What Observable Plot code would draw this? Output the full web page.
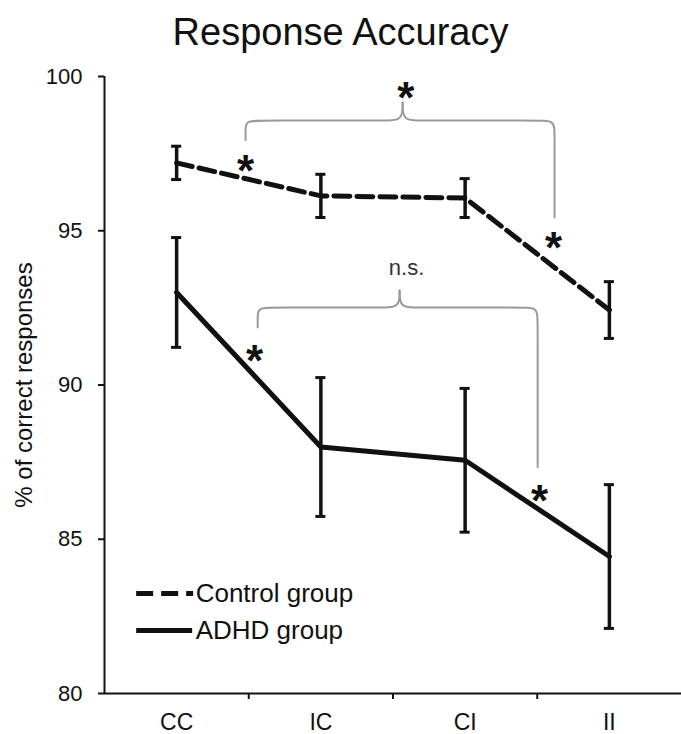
<!DOCTYPE html>
<html>
<head>
<meta charset="utf-8">
<script src="https://cdn.jsdelivr.net/npm/d3@7"></script>
<script src="https://cdn.jsdelivr.net/npm/@observablehq/plot@0.6"></script>
<style>
  html, body { margin: 0; padding: 0; background: #fff; }
  body { width: 681px; height: 734px; overflow: hidden; font-family: "Liberation Sans", Arial, sans-serif; }
  #title { height: 62px; box-sizing: border-box; padding-top: 13px; text-align: center; font-size: 38px; line-height: 38px; color: #111; }
</style>
</head>
<body>
<div id="title">Response Accuracy</div>
<div id="chart"></div>
<script>
// ---- data ----
const categories = ["CC", "IC", "CI", "II"];
const controlMean = [97.2, 96.13, 96.06, 92.43];
const controlErr  = [0.54, 0.70, 0.63, 0.92];
const adhdMean    = [93.0, 87.99, 87.56, 84.44];
const adhdErr     = [1.78, 2.25, 2.33, 2.33];
const yTicks = [80, 85, 90, 95, 100];
const yLabel = "% of correct responses";
const legendLabels = ["Control group", "ADHD group"];

// annotation braces (in data units: x = category index, y = %)
const braces = [
  {x1: 0.478, x2: 2.62, xc: 1.567, y1: 97.93, y2: 95.43, yBar: 98.57, yPeak: 99.16},
  {x1: 0.562, x2: 2.503, xc: 1.546, y1: 91.86, y2: 87.33, yBar: 92.51, yPeak: 93.06}
];
const stars = [
  {x: 1.588, y: 99.64},
  {x: 0.478, y: 97.28},
  {x: 2.613, y: 94.78},
  {x: 0.541, y: 91.12},
  {x: 2.516, y: 86.58}
];
const nsLabel = [{x: 1.594, y: 93.8, text: "n.s."}];
const legendPos = [{x1: -0.277, x2: 0.118, xt: 0.132, y: 83.24}, {x1: -0.277, x2: 0.111, xt: 0.132, y: 82.04}];

// ---- build tables ----
const control = categories.map((c, i) => ({i, c, mean: controlMean[i], lo: controlMean[i] - controlErr[i], hi: controlMean[i] + controlErr[i]}));
const adhd = categories.map((c, i) => ({i, c, mean: adhdMean[i], lo: adhdMean[i] - adhdErr[i], hi: adhdMean[i] + adhdErr[i]}));
const all = control.concat(adhd);

function bracePoints(b, k) {
  const dx = 0.12;
  const left = [
    [b.x1, b.y1], [b.x1, b.y1], [b.x1, b.y1],
    [b.x1, b.yBar - 0.3],
    [b.x1, b.yBar],
    [b.x1 + dx, b.yBar],
    [b.xc - dx, b.yBar],
    [b.xc, b.yBar],
    [b.xc, b.yPeak], [b.xc, b.yPeak], [b.xc, b.yPeak]
  ].map(([x, y]) => ({x, y, z: k + "L"}));
  const right = [
    [b.xc, b.yPeak], [b.xc, b.yPeak], [b.xc, b.yPeak],
    [b.xc, b.yBar],
    [b.xc + dx, b.yBar],
    [b.x2 - dx, b.yBar],
    [b.x2, b.yBar],
    [b.x2, b.yBar - 0.4],
    [b.x2, b.y2], [b.x2, b.y2], [b.x2, b.y2]
  ].map(([x, y]) => ({x, y, z: k + "R"}));
  return left.concat(right);
}
const bracePts = braces.flatMap((b, k) => bracePoints(b, k));
const legend = legendLabels.map((label, k) => ({label, ...legendPos[k]}));

const dash = "16,7";
const capW = 0.035;
const lineW = 5;
const chart = Plot.plot({
  width: 681,
  height: 672,
  marginTop: 14,
  marginBottom: 41,
  marginLeft: 104,
  marginRight: 0,
  style: {fontFamily: "'Liberation Sans', Arial, sans-serif", color: "#111", background: "#fff"},
  x: {type: "linear", domain: [-0.5, 3.5], axis: null},
  y: {domain: [80, 100], axis: null},
  marks: [
    // braces
    Plot.line(bracePts, {x: "x", y: "y", z: "z", curve: "basis", stroke: "#9a9a9a", strokeWidth: 2}),
    // axes
    Plot.axisY({ticks: yTicks, tickSize: 6, tickPadding: 16, fontSize: 22, label: null, strokeWidth: 2, tickFormat: d => d}),
    Plot.text([yLabel], {frameAnchor: "left", textAnchor: "middle", rotate: -90, dx: -80, text: d => d, fontSize: 24, fill: "#111"}),
    Plot.ruleX([-0.5], {y1: 80, y2: 100, strokeWidth: 2, stroke: "#111"}),
    Plot.ruleY([80], {strokeWidth: 2, stroke: "#111"}),
    Plot.axisX({ticks: [0.5, 1.5, 2.5], tickFormat: () => "", tickSize: 6, strokeWidth: 2, label: null}),
    Plot.axisX({ticks: [0, 1, 2, 3], tickSize: 0, tickPadding: 20, tickFormat: i => categories[i], fontSize: 23, label: null}),
    // series
    Plot.line(control, {x: "i", y: "mean", stroke: "#111", strokeWidth: lineW, strokeDasharray: dash}),
    Plot.line(adhd, {x: "i", y: "mean", stroke: "#111", strokeWidth: lineW}),
    // error bars
    Plot.ruleX(all, {x: "i", y1: "lo", y2: "hi", stroke: "#111", strokeWidth: 3.5}),
    Plot.ruleY(all, {y: "hi", x1: d => d.i - capW, x2: d => d.i + capW, stroke: "#111", strokeWidth: 3}),
    Plot.ruleY(all, {y: "lo", x1: d => d.i - capW, x2: d => d.i + capW, stroke: "#111", strokeWidth: 3}),
    // annotations
    Plot.text(stars, {x: "x", y: "y", text: () => "*", fontSize: 44, fontWeight: "bold", dy: 11, fill: "#111"}),
    Plot.text(nsLabel, {x: "x", y: "y", text: "text", fontSize: 22, fill: "#333"}),
    // legend
    Plot.ruleY(legend.slice(0, 1), {y: "y", x1: "x1", x2: "x2", stroke: "#111", strokeWidth: lineW, strokeDasharray: "17,8"}),
    Plot.ruleY(legend.slice(1), {y: "y", x1: "x1", x2: "x2", stroke: "#111", strokeWidth: lineW}),
    Plot.text(legend, {x: "xt", y: "y", text: "label", textAnchor: "start", fontSize: 26, fill: "#111"})
  ]
});
document.getElementById("chart").appendChild(chart);
</script>
</body>
</html>
